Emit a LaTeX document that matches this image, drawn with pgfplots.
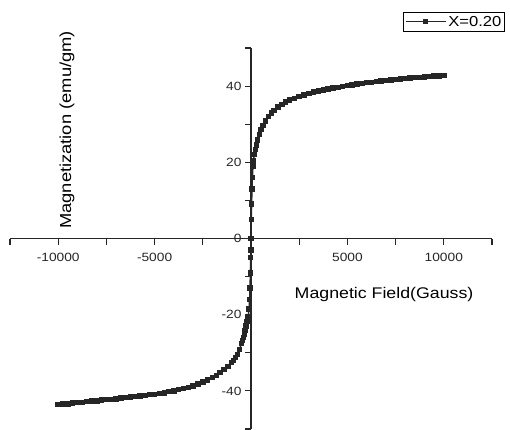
\documentclass[border=0pt]{standalone}
\usepackage{fontspec}
\setmainfont[FakeStretch=1.15]{Liberation Sans}
\usepackage{pgfplots}
\pgfplotsset{compat=1.18}

\begin{document}
\begin{tikzpicture}
\begin{axis}[
    scale only axis,
    width=482bp, height=381bp,
    axis lines=middle,
    axis line style={-, line width=1.2pt, black!85},
    xmin=-12500, xmax=12500, ymin=-50, ymax=50,
    xtick={-10000,-5000,5000,10000},
    ytick={-40,-20,0,20,40},
    minor xtick={-12500,-7500,-2500,2500,7500,12500},
    minor ytick={-50,-30,-10,10,30,50},
    scaled x ticks=false, scaled y ticks=false,
    hide obscured x ticks=false, hide obscured y ticks=false,
    tick align=outside,
    major tick length=6bp, minor tick length=6bp,
    tick style={line width=1.1pt, black!85},
    /pgf/number format/1000 sep={},
    /pgf/number format/assume math mode=true,
    ticklabel style={font=\fontsize{12}{14}\selectfont, black!85},
    xticklabel style={yshift=-5bp},
    xlabel={Magnetic Field(Gauss)},
    ylabel={Magnetization (emu/gm)},
    xlabel style={at={(axis cs:6900,-14.8)}, anchor=center, font=\fontsize{15.5}{18}\selectfont},
    ylabel style={at={(axis cs:-9543,28.5)}, anchor=center, rotate=90, font=\fontsize{16}{18}\selectfont},
    legend style={at={(0.815,1.0945)}, anchor=north west, draw=black, line width=0.9pt,
        font=\fontsize{14.5}{16}\selectfont, inner sep=1.5pt},
    legend image code/.code={
        \draw[#1, mark repeat=2, mark phase=2] plot coordinates {(0bp,0bp) (20bp,0bp) (40bp,0bp)};
    },
    legend cell align=left,
    clip=false,
]
\addplot[black!85, line width=1.5pt, mark=square*, mark size=2pt] coordinates {
(-10000,-43.6)(-9750,-43.5)(-9500,-43.4)(-9250,-43.2)(-9000,-43.1)
(-8750,-43.0)(-8500,-42.8)(-8250,-42.7)(-8000,-42.6)(-7750,-42.4)
(-7500,-42.3)(-7250,-42.2)(-7000,-42.1)(-6750,-41.9)(-6500,-41.8)
(-6250,-41.6)(-6000,-41.5)(-5750,-41.3)(-5500,-41.2)(-5250,-41.0)
(-5000,-40.9)(-4750,-40.7)(-4500,-40.5)(-4250,-40.2)(-4000,-40.0)
(-3750,-39.7)(-3500,-39.4)(-3250,-39.1)(-3000,-38.7)(-2750,-38.2)
(-2500,-37.7)(-2250,-37.1)(-2000,-36.5)(-1800,-35.9)(-1600,-35.2)
(-1400,-34.4)(-1200,-33.6)(-1000,-32.6)(-900,-32.0)(-800,-31.3)
(-700,-30.5)(-600,-29.2)(-500,-27.6)(-450,-26.8)(-400,-26.0)
(-350,-25.1)(-300,-24.2)(-250,-23.0)(-200,-21.8)(-150,-20.5)
(-100,-18.5)(-70,-16.0)(-50,-13.0)(-30,-9.0)(-15,-5.0)(0,-3.0)
(0,0)(15,5)(30,9)(50,13)(70,16)(100,19)(130,20.5)(170,22.0)
(220,23.3)(280,24.6)(350,25.9)(430,27.3)(520,28.6)(620,29.7)
(750,30.9)(900,32.0)(1050,32.9)(1200,33.6)(1400,34.5)(1600,35.2)
(1800,35.8)(2000,36.3)(2250,36.8)(2500,37.3)(2750,37.7)(3000,38.1)
(3250,38.4)(3500,38.7)(3750,39.0)(4000,39.3)(4250,39.5)(4500,39.7)
(4750,39.9)(5000,40.1)(5250,40.3)(5500,40.5)(5750,40.7)(6000,40.9)
(6250,41.0)(6500,41.2)(6750,41.3)(7000,41.5)(7250,41.6)(7500,41.7)
(7750,41.9)(8000,42.0)(8250,42.1)(8500,42.2)(8750,42.3)(9000,42.4)
(9250,42.5)(9500,42.6)(9750,42.7)(10000,42.8)
};
\addlegendentry{X=0.20}
\coordinate (bbll) at (axis cs:-13019,-50.26);
\coordinate (bbur) at (axis cs:13434,62.6);
\end{axis}
\pgfresetboundingbox
\useasboundingbox (bbll) rectangle (bbur);
\end{tikzpicture}
\end{document}
